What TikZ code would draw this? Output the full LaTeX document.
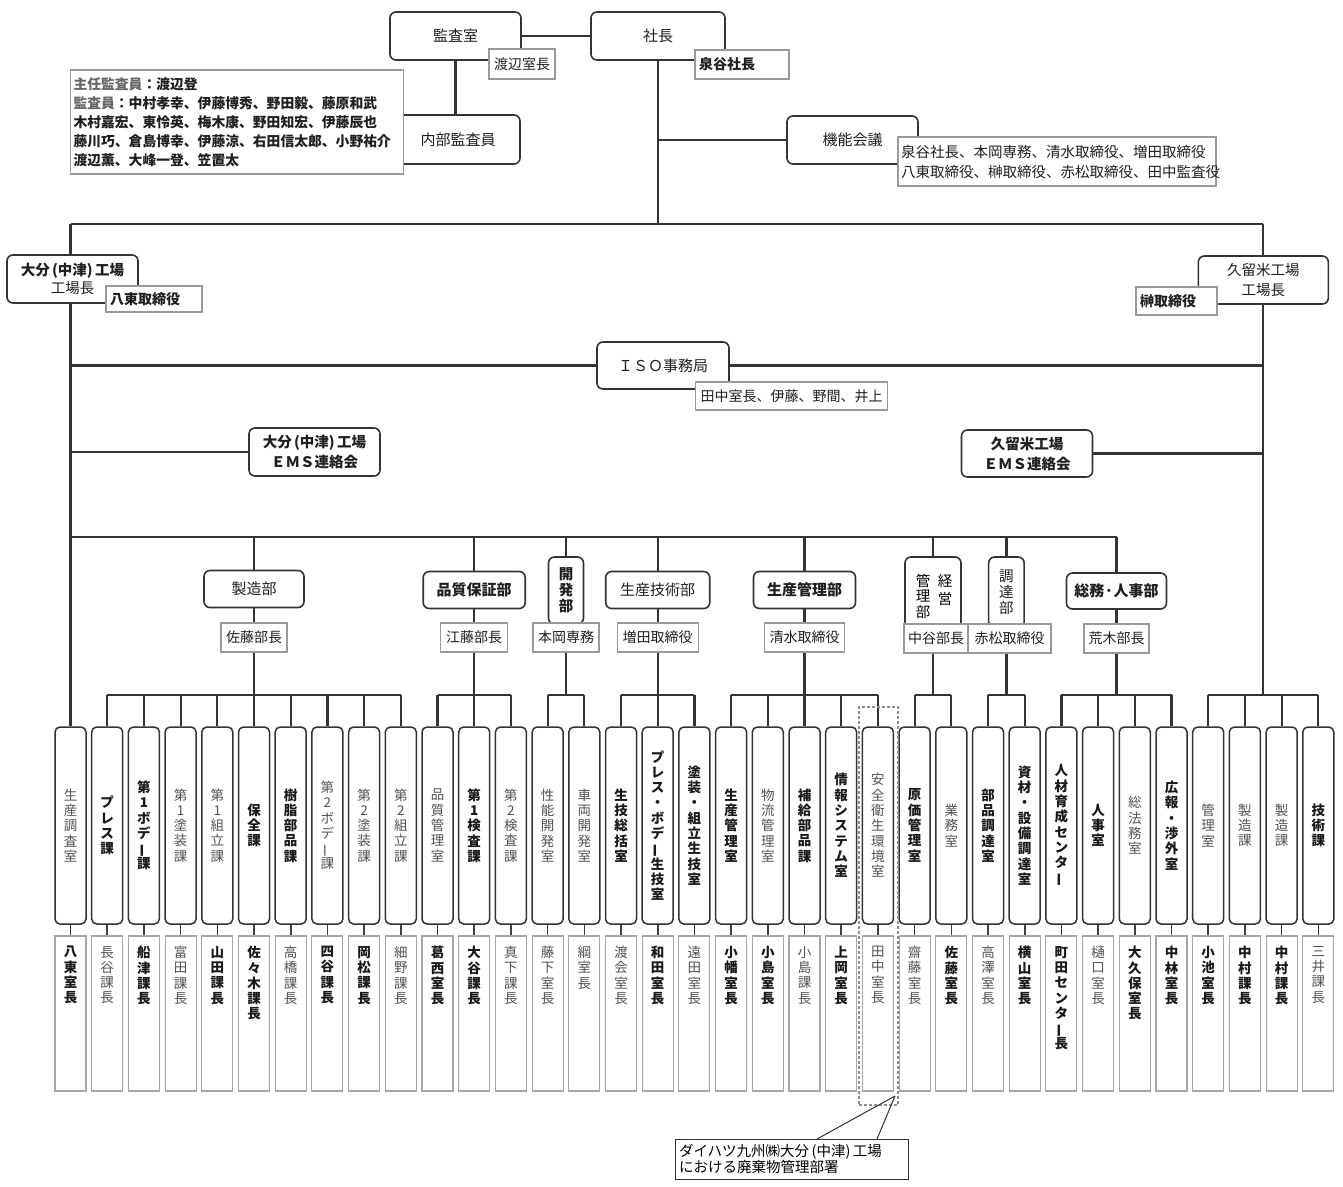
\documentclass[tikz,border=0pt]{standalone}
\usepackage{fontspec}
\usepackage{graphicx}
\setmainfont{Noto Sans CJK JP}
\pgfdeclarelayer{bg}
\pgfdeclarelayer{paper}
\pgfsetlayers{paper,bg,main}
\newcommand\fs[2]{\fontsize{#1}{#2}\selectfont}
\newcommand\vbar{\rotatebox[origin=c]{90}{ー}}
\def\vtend{VTEND}
\def\vtA#1#2{#1\ifx#2\vtend\expandafter\vtstop\else\expandafter\vtB\fi#2}
\def\vtB{\\\vtA}
\def\vtstop#1{}
\newcommand\vt[1]{\vtA#1\vtend}
\newcommand\vtx[1]{\expandafter\vt\expandafter{#1}}
\colorlet{dk}{black!90}
\colorlet{lt}{black!68}
\newcommand\fwdk{\bfseries}
\newcommand\fwlt{}
\newcommand\cfont{\fs{13.5}{15.3}}
\tikzset{
  ln/.style={draw=black!80, line width=2.2pt},
  tick/.style={draw=black!75, line width=1.6pt},
  hbox/.style={draw=black!80, line width=1.6pt, rounded corners=6pt, fill=white,
    align=center, inner sep=2pt, font=\fs{15}{19}, text=black!88},
  lab/.style={draw=black!40, line width=1.1pt, fill=white, inner sep=3pt,
    font=\fs{14}{17}, text=black!88},
  colt/.style={draw=black!80, line width=1.5pt, rounded corners=5pt, fill=white,
    minimum width=31pt, minimum height=197pt, align=center, inner sep=0pt},
  colb/.style={draw=black!35, line width=1.1pt, minimum width=31pt,
    minimum height=155pt, fill=white, inner sep=0pt},
  vtxt/.style={align=center, inner sep=0pt},
}
\begin{document}
\begin{tikzpicture}[x=1pt,y=-1pt]
\useasboundingbox (0,0) rectangle (1343,1186);
\begin{pgfonlayer}{paper}
\fill[white] (0,0) rectangle (1343,1186);
\end{pgfonlayer}

% ---------- top ----------
\node[hbox, minimum width=131pt, minimum height=48pt] (kansa) at (455.5,36) {監査室};
\node[lab, minimum width=66pt, minimum height=30pt] (kansaL) at (522,64) {渡辺室長};
\node[hbox, minimum width=134pt, minimum height=48pt] (shacho) at (658,36) {社長};
\node[lab, minimum width=94pt, minimum height=29pt, text width=86pt, align=left, font=\fs{14}{17}\bfseries] (shachoL) at (742,64.5) {泉谷社長};
\node[hbox, minimum width=124pt, minimum height=49pt] (naibu) at (458,139.5) {内部監査員};
\node[lab, minimum height=104pt, text width=327pt, align=left, font=\fs{13.8}{19}\bfseries] (names) at (237,122)
  {\textcolor{black!60}{主任監査員}：渡辺登\\
   \textcolor{black!60}{監査員}：中村孝幸、伊藤博秀、野田毅、藤原和武\\
   木村嘉宏、東怜英、梅木康、野田知宏、伊藤辰也\\
   藤川巧、倉島博幸、伊藤涼、右田信太郎、小野祐介\\
   渡辺薫、大峰一登、笠置太};
\node[hbox, minimum width=131pt, minimum height=48pt] (kino) at (852.5,140) {機能会議};
\node[lab, minimum height=49pt, text width=312pt, align=left, font=\fs{14.5}{20}] (kinoL) at (1057,161.5)
  {泉谷社長、本岡専務、清水取締役、増田取締役\\八東取締役、榊取締役、赤松取締役、田中監査役};

% ---------- plants ----------
\node[hbox, minimum width=131pt, minimum height=48pt, font=\fs{14.5}{18}] (oita) at (72.5,279)
  {\textbf{大分\,(中津)\,工場}\\工場長};
\node[lab, minimum width=96pt, minimum height=26pt, text width=88pt, align=left, font=\fs{14}{17}\bfseries] (oitaL) at (154,299) {八東取締役};
\node[hbox, minimum width=130pt, minimum height=48pt, font=\fs{14.5}{20}] (kurume) at (1263.3,280) {久留米工場\\工場長};
\node[lab, minimum width=81pt, minimum height=28pt, text width=73pt, align=left, font=\fs{14}{17}\bfseries] (kurumeL) at (1176.5,301) {榊取締役};

\node[hbox, minimum width=132pt, minimum height=47pt] (iso) at (663,365.5) {ＩＳＯ事務局};
\node[lab, minimum width=192pt, minimum height=28pt] (isoL) at (791.5,396) {田中室長、伊藤、野間、井上};

\node[hbox, minimum width=131pt, minimum height=48pt, font=\fs{14.5}{20}\bfseries] (emsO) at (314.5,452) {大分\,(中津)\,工場\\ＥＭＳ連絡会};
\node[hbox, minimum width=131pt, minimum height=47pt, font=\fs{14.5}{20}\bfseries] (emsK) at (1027,453.5) {久留米工場\\ＥＭＳ連絡会};

% ---------- departments ----------
\node[hbox, minimum width=100pt, minimum height=37pt] (seizo) at (254,589) {製造部};
\node[lab, minimum width=66pt, minimum height=29pt] (seizoL) at (254,637.5) {佐藤部長};
\node[hbox, minimum width=102pt, minimum height=37pt, font=\fs{15}{19}\bfseries] (hin) at (474.2,590) {品質保証部};
\node[lab, minimum width=67pt, minimum height=29pt] (hinL) at (474.2,637.5) {江藤部長};
\node[hbox, minimum width=35pt, minimum height=67pt, font=\fs{14.5}{16}\bfseries, inner sep=0pt] (kai) at (566,590.5) {\vt{開発部}};
\node[lab, minimum width=66pt, minimum height=29pt] (kaiL) at (566,637.5) {本岡専務};
\node[hbox, minimum width=104pt, minimum height=37pt] (seigi) at (657.7,590) {生産技術部};
\node[lab, minimum width=81pt, minimum height=29pt] (seigiL) at (657.7,637.5) {増田取締役};
\node[hbox, minimum width=102pt, minimum height=37pt, font=\fs{15}{19}\bfseries] (seikan) at (804.5,590) {生産管理部};
\node[lab, minimum width=80pt, minimum height=29pt] (seikanL) at (804.5,637.5) {清水取締役};
\node[hbox, minimum width=56pt, minimum height=71pt] (keiei) at (933,592.5) {};
\node[vtxt, font=\fs{14.5}{15.5}] (keieiA) at (923,596) {\vt{管理部}};
\node[vtxt, font=\fs{14.5}{18}] (keieiB) at (945,590) {\vt{経営}};
\node[lab, minimum width=64pt, minimum height=29pt] (keieiL) at (936,638.5) {中谷部長};
\node[hbox, minimum width=35.5pt, minimum height=71pt, font=\fs{14.5}{16}, inner sep=0pt] (cho) at (1006.4,592.5) {\vt{調達部}};
\node[lab, minimum width=83pt, minimum height=29pt] (choL) at (1009.5,638.5) {赤松取締役};
\node[hbox, minimum width=100pt, minimum height=36pt, font=\fs{15}{19}\bfseries] (somu) at (1116.5,591) {総務·人事部};
\node[lab, minimum width=65pt, minimum height=29pt] (somuL) at (1116.5,638.5) {荒木部長};

% ---------- columns ----------
\foreach \k/\ka/\kc/\kb/\kd in {
 1/生産調査室/lt/八東室長/dk,
 2/プレス課/dk/長谷課長/lt,
 3/第1ボデ\vbar 課/dk/船津課長/dk,
 4/第1塗装課/lt/富田課長/lt,
 5/第1組立課/lt/山田課長/dk,
 6/保全課/dk/佐々木課長/dk,
 7/樹脂部品課/dk/高橋課長/lt,
 8/第2ボデ\vbar 課/lt/四谷課長/dk,
 9/第2塗装課/lt/岡松課長/dk,
 10/第2組立課/lt/細野課長/lt,
 11/品質管理室/lt/葛西室長/dk,
 12/第1検査課/dk/大谷課長/dk,
 13/第2検査課/lt/真下課長/lt,
 14/性能開発室/lt/藤下室長/lt,
 15/車両開発室/lt/綱室長/lt,
 16/生技総括室/dk/渡会室長/lt,
 17/プレス・ボデ\vbar 生技室/dk/和田室長/dk,
 18/塗装・組立生技室/dk/遠田室長/lt,
 19/生産管理室/dk/小幡室長/dk,
 20/物流管理室/lt/小島室長/dk,
 21/補給部品課/dk/小島課長/lt,
 22/情報システム室/dk/上岡室長/dk,
 23/安全衛生環境室/lt/田中室長/lt,
 24/原価管理室/dk/齋藤室長/lt,
 25/業務室/lt/佐藤室長/dk,
 26/部品調達室/dk/高澤室長/lt,
 27/資材・設備調達室/dk/横山室長/dk,
 28/人材育成センタ\vbar/dk/町田センタ\vbar 長/dk,
 29/人事室/dk/樋口室長/lt,
 30/総法務室/lt/大久保室長/dk,
 31/広報・渉外室/dk/中林室長/dk,
 32/管理室/lt/小池室長/dk,
 33/製造課/lt/中村課長/dk,
 34/製造課/lt/中村課長/dk,
 35/技術課/dk/三井課長/lt}
{
  \pgfmathsetmacro\xx{70.5+36.7*(\k-1)}
  \node[colt, text=\kc, font=\cfont\csname fw\kc\endcsname] (t\k) at (\xx,825.5) {\vtx{\ka}};
  \node[colb] (b\k) at (\xx,1013.5) {};
  \node[vtxt, anchor=north, text=\kd, font=\cfont\csname fw\kd\endcsname] (bt\k) at (\xx,946) {\vtx{\kb}};
}

% ---------- highlight + callout ----------
\node[draw=black!45, line width=2pt, dash pattern=on 3pt off 2pt, minimum width=39pt, minimum height=398pt, inner sep=0pt] (hl) at (878.5,906) {};
\node[draw=black!80, line width=1pt, fill=white, minimum width=233pt, minimum height=40pt, text width=225pt, align=left, inner sep=3pt, font=\fs{14.5}{15.5}] (callout) at (791.5,1159)
  {ダイハツ九州㈱大分\,(中津)\,工場\\における廃棄物管理部署};
\coordinate (c1) at (817,1139);
\coordinate (c2) at (877,1139);
\coordinate (d1) at (895,1096);
\draw[black!80, line width=1pt] (c1) -- (d1) (c2) -- (d1);

% ---------- connectors ----------
\begin{pgfonlayer}{bg}
\coordinate (barL) at (70.5,224);
\coordinate (barR) at (1263.3,224);
\coordinate (db) at (0,537);
\coordinate (gb) at (0,695);
\draw[ln] (kansa.east) -- (kansa.east -| shacho.west);
\draw[ln] (kansa.south) -- (kansa.south |- naibu.north);
\draw[ln] (shacho.south) -- (shacho.south |- barL);
\draw[ln] (shacho.south |- kino.west) -- (kino.west);
\draw[ln] (barL) -- (barR);
\draw[ln] (barL) -- (t1.north);
\draw[ln] (barR) -- (barR |- gb);
\draw[ln] (barL |- iso.west) -- (iso.west);
\draw[ln] (iso.east) -- (barR |- iso.east);
\draw[ln] (barL |- emsO.west) -- (emsO.west);
\draw[ln] (emsK.east) -- (barR |- emsK.east);
\draw[ln] (barL |- db) -- (somu.north |- db);
\foreach \d in {seizo,hin,kai,seigi,seikan,keiei,cho,somu}{
  \draw[ln] (\d.north |- db) -- (\d.north);
  \draw[ln] (\d.south) -- (\d.south |- \d L.north);
  \draw[ln] (\d.south |- \d L.south) -- (\d.south |- gb);
}
\foreach \a/\b in {2/10,11/13,14/15,16/18,19/23,24/25,26/27,28/31,32/35}{
  \draw[ln] (t\a.north |- gb) -- (t\b.north |- gb);
  \foreach \k in {\a,...,\b}{
    \draw[ln] (t\k.north |- gb) -- (t\k.north);
  }
}
\foreach \k in {1,...,35}{
  \draw[tick] (t\k.south) -- (b\k.north);
}
\end{pgfonlayer}
\end{tikzpicture}
\end{document}
